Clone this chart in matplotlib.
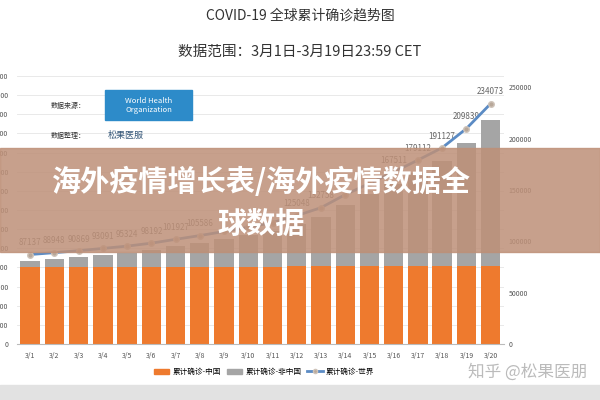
import matplotlib
matplotlib.use("Agg")
import matplotlib.pyplot as plt
from matplotlib.patches import Rectangle
import numpy as np

plt.rcParams['font.family'] = ['Noto Sans CJK SC', 'DejaVu Sans']

dates = ["3/1","3/2","3/3","3/4","3/5","3/6","3/7","3/8","3/9","3/10",
         "3/11","3/12","3/13","3/14","3/15","3/16","3/17","3/18","3/19","3/20"]
world = [87137, 88948, 90869, 93091, 95324, 98192, 101927, 105586, 109577, 113702,
         118319, 125048, 132758, 145483, 156400, 167511, 179112, 191127, 209839, 234073]
china = [79968, 80174, 80303, 80424, 80581, 80734, 80815, 80868, 80905, 80932,
         80969, 80991, 81021, 81048, 81077, 81116, 81151, 81235, 81300, 81416]
nonchina = [w - c for w, c in zip(world, china)]
show_label = [True]*8 + [False]*3 + [True, True] + [False]*2 + [True]*5

fig = plt.figure(figsize=(6, 4), dpi=100)
fig.patch.set_facecolor('white')
ax = fig.add_axes([0.028, 0.14, 0.812, 0.67])
x = np.arange(len(dates))
ax.bar(x, china, width=0.8, color='#EE7A2E', zorder=2)
ax.bar(x, nonchina, bottom=china, width=0.8, color='#A5A5A5', zorder=2)
ax.set_ylim(0, 280000)
ax.set_yticks(np.arange(0, 280001, 20000))
ax.set_yticklabels([f"{v}" for v in range(0, 280001, 20000)], fontsize=5, color='#555555')
ax.grid(axis='y', color='#E5E5E5', lw=0.6, zorder=0)
ax.set_xlim(-0.55, len(dates) - 0.45)
ax.set_xticks(x)
ax.set_xticklabels(dates, fontsize=5, color='#555555')
for s in ['top', 'right', 'left']:
    ax.spines[s].set_visible(False)
ax.spines['bottom'].set_color('#BBBBBB')
ax.tick_params(length=0, pad=6)

ax2 = ax.twinx()
ax2.plot(x, world, color='#5B8BC4', lw=2, marker='o', ms=4,
         mfc='#B8A89A', mec='#CFC4BA', zorder=5)
ax2.set_ylim(0, 261000)
ax2.set_yticks(np.arange(0, 250001, 50000))
ax2.tick_params(labelsize=5, colors='#555555', length=0)
for s in ax2.spines.values():
    s.set_visible(False)
for xi, w, sh in zip(x, world, show_label):
    if sh:
        ax2.text(xi, w + 7000, str(w), ha='center', va='bottom', fontsize=5.8, color='#666666')

fig.text(0.5, 0.96, "COVID-19 全球累计确诊趋势图", ha='center', va='center', fontsize=10, color='#333333')
fig.text(0.5, 0.87, "数据范围：3月1日-3月19日23:59 CET", ha='center', va='center', fontsize=10.5, color='#333333')

fig.text(0.085, 0.73, "数据来源：", fontsize=5, color='#333333')
fig.add_artist(Rectangle((0.175, 0.70), 0.145, 0.075, transform=fig.transFigure, color='#2D8BC9'))
fig.text(0.248, 0.737, "World Health\nOrganization", ha='center', va='center', fontsize=5.5, color='white')
fig.text(0.085, 0.655, "数据整理：", fontsize=5, color='#333333')
fig.text(0.18, 0.655, "松果医服", fontsize=6.5, color='#335577')

fig.add_artist(Rectangle((0, 0.37), 1, 0.26, transform=fig.transFigure, color='#BE9078', alpha=0.85, zorder=10))
fig.text(0.435, 0.545, "海外疫情增长表/海外疫情数据全", ha='center', va='center', fontsize=21,
         fontweight='bold', color='white', zorder=11)
fig.text(0.435, 0.44, "球数据", ha='center', va='center', fontsize=21,
         fontweight='bold', color='white', zorder=11)

fig.add_artist(Rectangle((0, 0), 1, 0.0375, transform=fig.transFigure, color='#E2E2E2', zorder=1))

handles = [Rectangle((0, 0), 1, 1, color='#EE7A2E'), Rectangle((0, 0), 1, 1, color='#A5A5A5'),
           plt.Line2D([], [], color='#5B8BC4', lw=2, marker='o', ms=3, mfc='#B8A89A', mec='#CFC4BA')]
fig.legend(handles, ["累计确诊-中国", "累计确诊-非中国", "累计确诊-世界"], loc='center',
           bbox_to_anchor=(0.44, 0.07), ncol=3, frameon=False, fontsize=5.5,
           handlelength=2, columnspacing=0.8, handletextpad=0.4)
fig.text(0.78, 0.07, "知乎 @松果医朋", fontsize=12, color='#BBBBBB', va='center')

fig.savefig("out.png", dpi=100)
